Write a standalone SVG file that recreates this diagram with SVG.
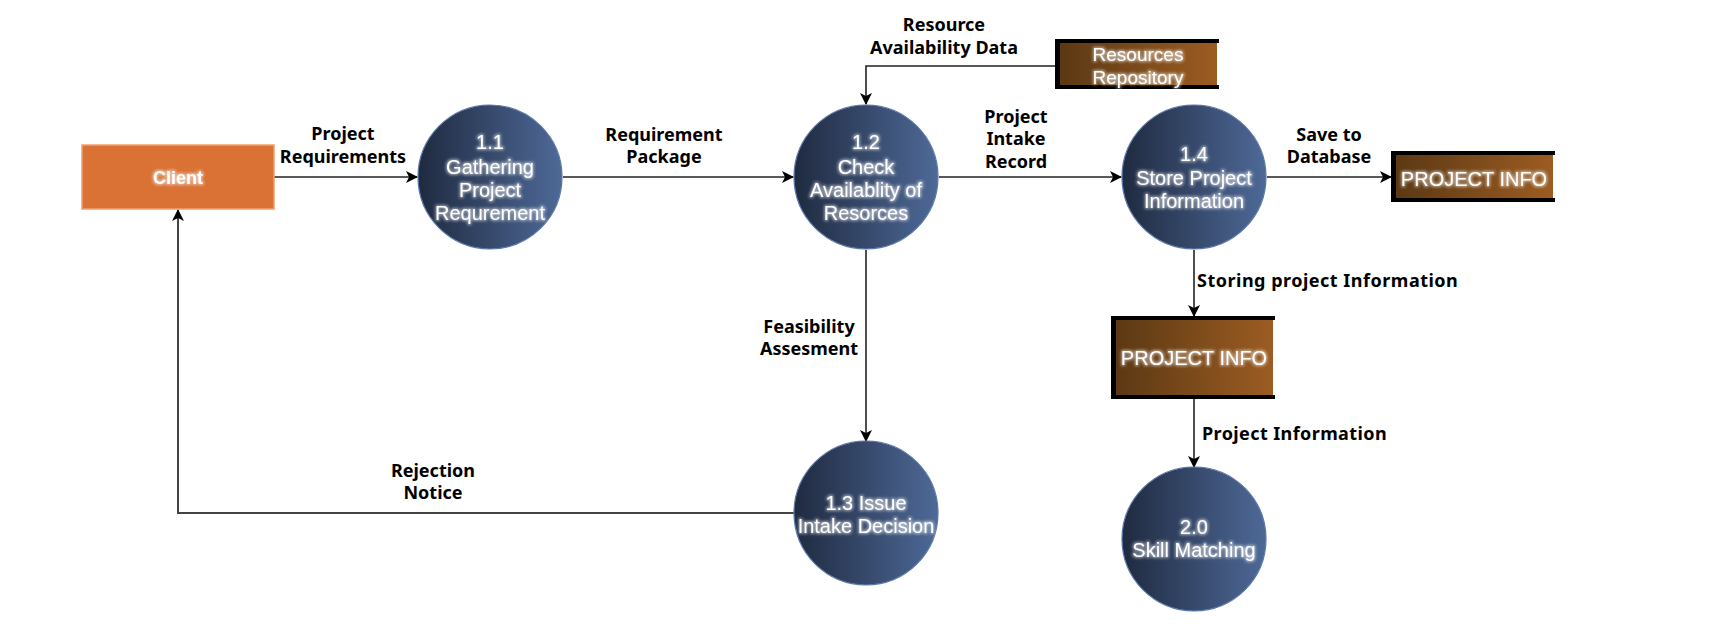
<svg xmlns="http://www.w3.org/2000/svg" width="1718" height="634" viewBox="0 0 1718 634">
<defs>
<style>
.lbl{font-family:"Noto Sans","DejaVu Sans",sans-serif;font-weight:bold;font-size:18px;fill:#000;}
.ntx{font-family:"Liberation Sans",Arial,sans-serif;font-size:20px;fill:#fff;filter:url(#glow);}
.conn{fill:none;stroke:#222;stroke-width:1.6;marker-end:url(#arr);}
.proc{fill:url(#gBlue);stroke:#5a78a8;stroke-width:1.2;}
.store{fill:url(#gBrown);}
.bar{fill:#000;}
</style>
<linearGradient id="gBlue" x1="0" y1="0" x2="1" y2="0">
<stop offset="0" stop-color="#1f2a40"/>
<stop offset="1" stop-color="#4e6997"/>
</linearGradient>
<linearGradient id="gBrown" x1="0" y1="0" x2="1" y2="0">
<stop offset="0" stop-color="#5a3813"/>
<stop offset="1" stop-color="#9c5c22"/>
</linearGradient>
<filter id="glow" x="-20%" y="-40%" width="140%" height="180%">
<feMorphology in="SourceAlpha" operator="dilate" radius="0.8" result="d"/>
<feGaussianBlur in="d" stdDeviation="1.6" result="b"/>
<feFlood flood-color="#ffffff" flood-opacity="0.55"/>
<feComposite in2="b" operator="in" result="g"/>
<feMerge><feMergeNode in="g"/><feMergeNode in="SourceGraphic"/></feMerge>
</filter>
<marker id="arr" viewBox="0 0 12 12" refX="11" refY="6" markerWidth="12" markerHeight="12" markerUnits="userSpaceOnUse" orient="auto">
<path d="M0,0 L12,6 L0,12 L3,6 z" fill="#000"/>
</marker>
</defs>
<rect width="1718" height="634" fill="#fff"/>

<g id="connectors">
<path class="conn" d="M274,177 L417,177"/>
<path class="conn" d="M563,177 L793,177"/>
<path class="conn" d="M939,177 L1121,177"/>
<path class="conn" d="M1267,177 L1391,177"/>
<path class="conn" d="M1055,66 L866,66 L866,104"/>
<path class="conn" d="M866,250 L866,441"/>
<path class="conn" style="stroke:#444;stroke-width:2" d="M794,513 L178,513 L178,210"/>
<path class="conn" d="M1194,250 L1194,316"/>
<path class="conn" d="M1194,399 L1194,467"/>
</g>

<g id="labels">
<text class="lbl" x="343" y="140" text-anchor="middle">Project</text>
<text class="lbl" x="343" y="163" text-anchor="middle">Requirements</text>
<text class="lbl" x="664" y="141" text-anchor="middle">Requirement</text>
<text class="lbl" x="664" y="163" text-anchor="middle">Package</text>
<text class="lbl" x="1016" y="123" text-anchor="middle">Project</text>
<text class="lbl" x="1016" y="145" text-anchor="middle">Intake</text>
<text class="lbl" x="1016" y="168" text-anchor="middle">Record</text>
<text class="lbl" x="944" y="31" text-anchor="middle">Resource</text>
<text class="lbl" x="944" y="54" text-anchor="middle">Availability Data</text>
<text class="lbl" x="1329" y="141" text-anchor="middle">Save to</text>
<text class="lbl" x="1329" y="163" text-anchor="middle">Database</text>
<text class="lbl" x="1197" y="287" letter-spacing="0.5">Storing project Information</text>
<text class="lbl" x="809" y="333" text-anchor="middle">Feasibility</text>
<text class="lbl" x="809" y="355" text-anchor="middle">Assesment</text>
<text class="lbl" x="433" y="477" text-anchor="middle">Rejection</text>
<text class="lbl" x="433" y="499" text-anchor="middle">Notice</text>
<text class="lbl" x="1202" y="440" letter-spacing="0.4">Project Information</text>
</g>

<g id="client">
<rect x="82" y="145" width="192" height="64" fill="#d97234" stroke="#f0a070" stroke-width="1.5"/>
<text class="ntx" x="178" y="184" text-anchor="middle" font-weight="bold" style="font-size:18px">Client</text>
</g>

<g id="p11">
<circle class="proc" cx="490" cy="177" r="72"/>
<text class="ntx" x="490" y="149" text-anchor="middle">1.1</text>
<text class="ntx" x="490" y="174" text-anchor="middle">Gathering</text>
<text class="ntx" x="490" y="197" text-anchor="middle">Project</text>
<text class="ntx" x="490" y="220" text-anchor="middle">Requrement</text>
</g>

<g id="p12">
<circle class="proc" cx="866" cy="177" r="72"/>
<text class="ntx" x="866" y="149" text-anchor="middle">1.2</text>
<text class="ntx" x="866" y="174" text-anchor="middle">Check</text>
<text class="ntx" x="866" y="197" text-anchor="middle">Availablity of</text>
<text class="ntx" x="866" y="220" text-anchor="middle">Resorces</text>
</g>

<g id="p14">
<circle class="proc" cx="1194" cy="177" r="72"/>
<text class="ntx" x="1194" y="161" text-anchor="middle">1.4</text>
<text class="ntx" x="1194" y="185" text-anchor="middle">Store Project</text>
<text class="ntx" x="1194" y="208" text-anchor="middle">Information</text>
</g>

<g id="p13">
<circle class="proc" cx="866" cy="513" r="72"/>
<text class="ntx" x="866" y="510" text-anchor="middle">1.3 Issue</text>
<text class="ntx" x="866" y="533" text-anchor="middle">Intake Decision</text>
</g>

<g id="p20">
<circle class="proc" cx="1194" cy="539" r="72"/>
<text class="ntx" x="1194" y="534" text-anchor="middle">2.0</text>
<text class="ntx" x="1194" y="557" text-anchor="middle">Skill Matching</text>
</g>

<g id="store-resources">
<rect class="store" x="1058" y="41" width="159" height="46"/>
<rect class="bar" x="1055" y="39" width="164" height="4"/>
<rect class="bar" x="1055" y="85" width="164" height="4"/>
<rect class="bar" x="1055" y="39" width="5" height="50"/>
<text class="ntx" x="1138" y="61" text-anchor="middle" style="font-size:19px">Resources</text>
<text class="ntx" x="1138" y="84" text-anchor="middle" style="font-size:19px">Repository</text>
</g>

<g id="store-projectinfo-1">
<rect class="store" x="1393" y="153" width="160" height="46"/>
<rect class="bar" x="1391" y="151" width="164" height="4"/>
<rect class="bar" x="1391" y="198" width="164" height="4"/>
<rect class="bar" x="1391" y="151" width="5" height="51"/>
<text class="ntx" x="1474" y="186" text-anchor="middle">PROJECT INFO</text>
</g>

<g id="store-projectinfo-2">
<rect class="store" x="1113" y="318" width="160" height="79"/>
<rect class="bar" x="1111" y="316" width="164" height="4"/>
<rect class="bar" x="1111" y="395" width="164" height="4"/>
<rect class="bar" x="1111" y="316" width="5" height="83"/>
<text class="ntx" x="1194" y="365" text-anchor="middle">PROJECT INFO</text>
</g>
</svg>
